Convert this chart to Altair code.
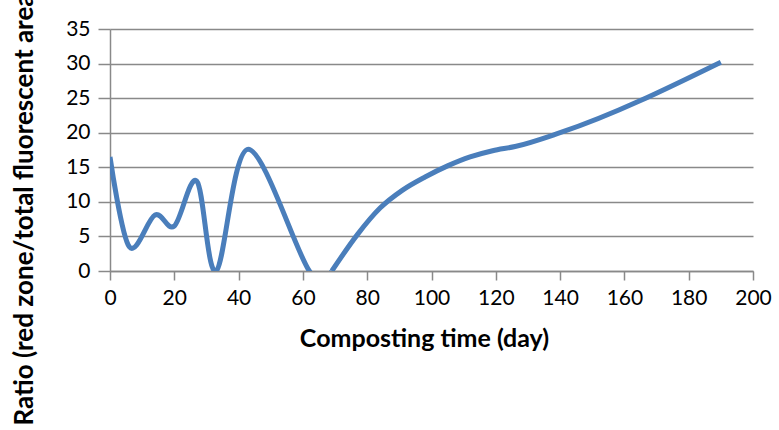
import altair as alt
import pandas as pd

days = [0, 6, 14, 20, 27, 33, 43, 62, 69, 77, 84, 91, 98, 105, 112, 119, 126, 140, 190]
ratio = [16.5, 3.5, 8.1, 6.5, 13.0, 0.0, 17.6, 0.0, 0.0, 5.3, 9.1, 11.7, 13.6, 15.2, 16.5, 17.4, 18.0, 20.0, 30.2]

df = pd.DataFrame({"day": days, "ratio": ratio})
split_day = 69
early = df[df["day"] <= split_day]
late = df[df["day"] >= split_day]

FONT = "Lato"

x_enc = alt.X("day:Q", scale=alt.Scale(domain=[0, 200], nice=False),
              axis=alt.Axis(values=list(range(0, 201, 20)), title="Composting time (day)",
                            grid=False, tickSize=9, labelPadding=7, labelFlush=False,
                            titleBaseline="alphabetic", titleX=314, titleY=75))
y_enc = alt.Y("ratio:Q", scale=alt.Scale(domain=[0, 35], nice=False),
              axis=alt.Axis(values=list(range(0, 36, 5)),
                            title="Ratio (red zone/total fluorescent area)",
                            tickSize=12, labelPadding=8, titleFontSize=26,
                            titleAngle=270, titleAlign="left", titleBaseline="alphabetic",
                            titleX=-78, titleY=396))

line_style = dict(color="#4a7ebb", strokeWidth=5, clip=True)

left = alt.Chart(early).mark_line(interpolate="cardinal", tension=0, **line_style).encode(x=x_enc, y=y_enc)
right = alt.Chart(late).mark_line(interpolate="monotone", **line_style).encode(x=x_enc, y=y_enc)

chart = alt.layer(left, right).properties(
    width=643, height=242,
    autosize=alt.AutoSizeParams(type="none"),
    padding={"left": 110, "top": 29, "right": 26, "bottom": 159},
).configure_view(stroke=None).configure_axis(
    labelFont=FONT, titleFont=FONT, labelFontSize=21, titleFontSize=25,
    titleFontWeight="bold", labelColor="#000000", titleColor="#000000",
    domainColor="#898989", tickColor="#898989", gridColor="#898989",
    domainWidth=1.5, tickWidth=1.5, gridWidth=1.5, gridOpacity=1,
)

chart.save("out.html", embed_options={"renderer": "svg", "actions": False})
